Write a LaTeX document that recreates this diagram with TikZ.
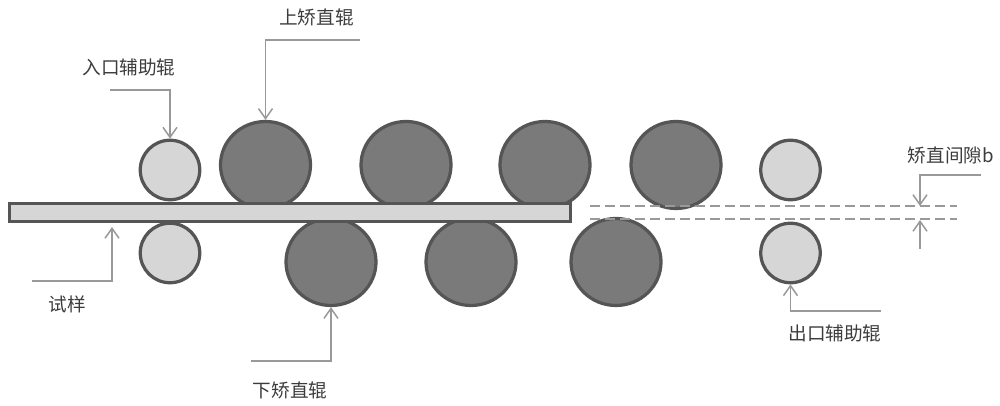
\documentclass[tikz,border=0pt]{standalone}
\usepackage{fontspec}
\setmainfont{Noto Sans CJK SC}
\usetikzlibrary{arrows.meta,shapes.geometric}
\tikzset{
  lightroll/.style={circle, draw=rollEdge, fill=lightFill, line width=0.065cm, minimum size=1.19cm, inner sep=0pt},
  darkroll/.style={ellipse, draw=rollEdge, fill=darkFill, line width=0.065cm, minimum width=1.8cm, minimum height=1.74cm, inner sep=0pt},
  lead/.style={color=leadGray, line width=0.03cm, -{Straight Barb[length=0.2cm,width=0.28cm]}},
  gapline/.style={color=leadGray, line width=0.03cm, dash pattern=on 0.2cm off 0.1cm},
  tag/.style={text=tagGray, font=\fontsize{10.6pt}{12pt}\selectfont, inner sep=0pt}
}
\definecolor{rollEdge}{HTML}{555555}
\definecolor{lightFill}{HTML}{D6D6D6}
\definecolor{darkFill}{HTML}{7A7A7A}
\definecolor{leadGray}{HTML}{999999}
\definecolor{tagGray}{HTML}{3C3C3C}
\begin{document}
\begin{tikzpicture}
    \useasboundingbox (0,0) rectangle (20,8.12);

    % rollers
    \node [lightroll] (inTop) at (3.4,4.72) {};
    \node [lightroll] (inBot) at (3.4,3.06) {};
    \node [lightroll] (outTop) at (15.81,4.72) {};
    \node [lightroll] (outBot) at (15.81,3.06) {};

    \node [darkroll] (upA) at (5.31,4.82) {};
    \node [darkroll] (upB) at (8.12,4.82) {};
    \node [darkroll] (upC) at (10.9,4.82) {};
    \node [darkroll] (upD) at (13.52,4.82) {};

    \node [darkroll] (lowA) at (6.62,2.88) {};
    \node [darkroll] (lowB) at (9.42,2.88) {};
    \node [darkroll] (lowC) at (12.32,2.88) {};

    % sample
    \node [rectangle, draw=rollEdge, fill=lightFill, line width=0.065cm,
      minimum width=11.22cm, minimum height=0.36cm, inner sep=0pt] (plate) at (5.8,3.87) {};

    % gap lines
    \coordinate (gapTopL) at (11.8,4.0);
    \coordinate (gapTopR) at (19.14,4.0);
    \coordinate (gapBotL) at (11.8,3.74);
    \coordinate (gapBotR) at (19.14,3.74);
    \draw [gapline] (gapTopL) -- (gapTopR);
    \draw [gapline] (gapBotL) -- (gapBotR);

    % labels
    \node [tag] (tagUp) at (6.33,7.78) {上矫直辊};
    \node [tag] (tagIn) at (2.58,6.78) {入口辅助辊};
    \node [tag] (tagSample) at (1.34,2.04) {试样};
    \node [tag] (tagLow) at (5.8,0.32) {下矫直辊};
    \node [tag] (tagOut) at (16.7,1.46) {出口辅助辊};
    \node [tag] (tagGap) at (19.02,5.02) {矫直间隙b};

    % leaders
    \coordinate (startUp) at (7.2,7.32);
    \coordinate (startIn) at (2.2,6.32);
    \coordinate (startSample) at (0.64,2.5);
    \coordinate (tipSample) at (2.24,3.58);
    \coordinate (startLow) at (5.02,0.9);
    \coordinate (startOut) at (17.62,1.9);
    \coordinate (startGap) at (19.62,4.62);
    \coordinate (tipGapTop) at (18.4,4.0);
    \coordinate (startGapBot) at (18.4,3.14);
    \coordinate (tipGapBot) at (18.4,3.72);

    \draw [lead] (startUp) -| (upA.north);
    \draw [lead] (startIn) -| (inTop.north);
    \draw [lead] (startSample) -| (tipSample);
    \draw [lead] (startLow) -| (lowA.south);
    \draw [lead] (startOut) -| (outBot.south);
    \draw [lead] (startGap) -| (tipGapTop);
    \draw [lead] (startGapBot) -- (tipGapBot);

\end{tikzpicture}
\end{document}
